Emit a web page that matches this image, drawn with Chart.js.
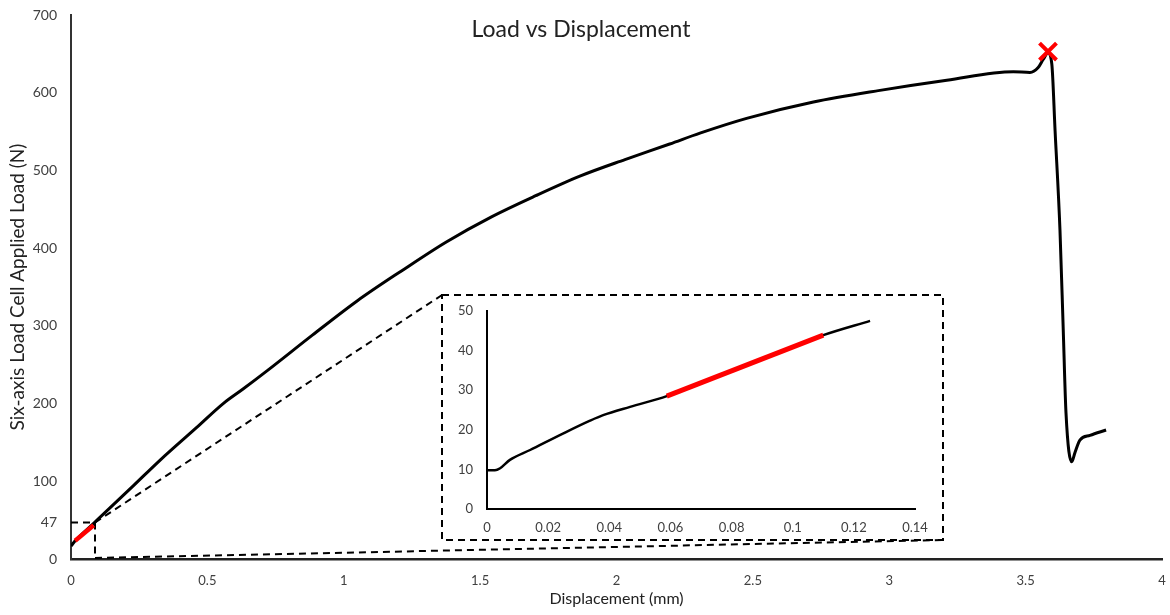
<!DOCTYPE html>
<html><head><meta charset="utf-8">
<script src="https://cdn.jsdelivr.net/npm/chart.js@4.4.1/dist/chart.umd.min.js"></script>
<style>
html,body{margin:0;padding:0;background:#fff;}
#wrap{position:relative;width:1170px;height:615px;overflow:hidden;}
#main{position:absolute;left:0;top:0;}
#inset{position:absolute;}
</style></head><body>
<div id="wrap">
<canvas id="main" width="1170" height="615"></canvas>
<canvas id="inset" width="498" height="241"></canvas>
</div>
<script>
// ---- Main curve data (Displacement mm, Load N) ----
const displacement = [0, 0.018, 0.088, 0.231, 0.326, 0.460, 0.558, 0.632, 0.722, 0.885, 1.049, 1.213, 1.376, 1.540, 1.704, 1.868, 2.031, 2.195, 2.306, 2.477, 2.722, 2.966, 3.211, 3.455, 3.516, 3.546, 3.565, 3.582, 3.596, 3.608, 3.626, 3.638, 3.648, 3.669, 3.681, 3.699, 3.736, 3.795];
const load = [16.7, 24.4, 47.5, 95.0, 127.0, 169.0, 200.0, 219.0, 243.0, 288.0, 332.0, 371.0, 408.0, 440.0, 467.5, 493.0, 514.0, 534.0, 548.0, 567.0, 588.0, 603.0, 616.0, 627.0, 626.0, 632.3, 643.1, 651, 637, 551, 422.6, 294, 188, 125, 137, 153, 159, 166];
const redDisp = [0.015, 0.083];
const redLoad = [23.5, 43.5];
const failureDisp = [3.582];
const failureLoad = [653];
const xTicksMain = [0, 0.5, 1, 1.5, 2, 2.5, 3, 3.5, 4];
const yTicksMain = [0, 47, 100, 200, 300, 400, 500, 600, 700];
const zoomDisp = 0.088;
const zoomLoad = 47;

// ---- Inset data ----
const insetDisp = [0, 0.0026, 0.0043, 0.0075, 0.0141, 0.025, 0.0337, 0.038, 0.0468, 0.0588, 0.085, 0.110, 0.1253];
const insetLoad = [9.8, 9.8, 10.3, 12.4, 14.9, 19.1, 22.3, 23.7, 25.8, 28.5, 36.4, 43.9, 47.5];
const insetRedDisp = [0.0588, 0.110];
const insetRedLoad = [28.5, 43.9];
const xTicksInset = [0, 0.02, 0.04, 0.06, 0.08, 0.1, 0.12, 0.14];
const yTicksInset = [0, 10, 20, 30, 40, 50];

const pts = (xs, ys) => xs.map((v, i) => ({x: v, y: ys[i]}));
const FONT = 'Lato, "Open Sans", sans-serif';
const TXT = '#404040';
const noPad = s => { s.paddingLeft = 0; s.paddingRight = 0; s.paddingTop = 0; s.paddingBottom = 0; };

// inset frame (page px)
const FRAME = {l: 442, t: 295, r: 943, b: 540};
const insetCanvas = document.getElementById('inset');
insetCanvas.style.left = (FRAME.l + 1) + 'px';
insetCanvas.style.top = (FRAME.t + 2) + 'px';

const guidePlugin = {
  id: 'zoomGuide',
  beforeDatasetsDraw(chart) {
    const {ctx, scales: {x, y}} = chart;
    const zx = x.getPixelForValue(zoomDisp), zy = y.getPixelForValue(zoomLoad);
    const x0 = x.getPixelForValue(0), y0 = y.getPixelForValue(0);
    ctx.save();
    ctx.setLineDash([7, 5]);
    ctx.lineWidth = 2;
    ctx.strokeStyle = '#000';
    ctx.beginPath();
    ctx.moveTo(x0, zy); ctx.lineTo(zx, zy); ctx.lineTo(zx, y0 - 1);
    ctx.moveTo(zx, zy); ctx.lineTo(FRAME.l, FRAME.t);
    ctx.moveTo(zx, y0 - 1); ctx.lineTo(FRAME.r, FRAME.b);
    ctx.stroke();
    ctx.strokeRect(FRAME.l, FRAME.t, FRAME.r - FRAME.l, FRAME.b - FRAME.t);
    ctx.restore();
  }
};

new Chart(document.getElementById('main'), {
  type: 'scatter',
  data: {
    datasets: [
      {data: pts(displacement, load), showLine: true, borderColor: '#000', borderWidth: 3, pointRadius: 0, cubicInterpolationMode: 'monotone', order: 3},
      {data: pts(redDisp, redLoad), showLine: true, borderColor: '#ff0000', borderWidth: 4.5, pointRadius: 0, order: 2},
      {data: pts(failureDisp, failureLoad), showLine: false, pointStyle: 'crossRot', pointRadius: 12, borderColor: '#ff0000', borderWidth: 4, order: 1}
    ]
  },
  options: {
    responsive: false, animation: false,
    layout: {autoPadding: false, padding: {top: 0, right: 8, bottom: 0, left: 0}},
    plugins: {
      legend: {display: false}, tooltip: {enabled: false},
      title: {display: true, text: 'Load vs Displacement', color: '#222', font: {family: FONT, size: 23, weight: 'normal', lineHeight: 1.2}, padding: {top: 16.2, bottom: -28.8}}
    },
    scales: {
      x: {
        type: 'linear', min: 0, max: 4,
        afterBuildTicks: s => { s.ticks = xTicksMain.map(v => ({value: v})); },
        afterFit: s => { s.height = 56; noPad(s); },
        grid: {display: false, drawTicks: false},
        border: {display: true, color: '#222', width: 2.5},
        ticks: {padding: 14, color: TXT, font: {family: FONT, size: 13}, callback: v => String(v), maxRotation: 0},
        title: {display: true, text: 'Displacement (mm)', color: '#222', font: {family: FONT, size: 16}, padding: {top: 0, bottom: 7}}
      },
      y: {
        type: 'linear', min: 0, max: 700,
        afterBuildTicks: s => { s.ticks = yTicksMain.map(v => ({value: v})); },
        afterFit: s => { s.width = 71; noPad(s); },
        grid: {display: false, drawTicks: false},
        border: {display: true, color: '#333', width: 2},
        ticks: {padding: 14, color: TXT, font: {family: FONT, size: 14}, callback: v => String(v)},
        title: {display: true, text: 'Six-axis Load Cell Applied Load (N)', color: '#222', font: {family: FONT, size: 19}, padding: {top: 6, bottom: 0}}
      }
    }
  },
  plugins: [guidePlugin]
});

new Chart(insetCanvas, {
  type: 'scatter',
  data: {
    datasets: [
      {data: pts(insetDisp, insetLoad), showLine: true, borderColor: '#000', borderWidth: 2.5, pointRadius: 0, cubicInterpolationMode: 'monotone', order: 2},
      {data: pts(insetRedDisp, insetRedLoad), showLine: true, borderColor: '#ff0000', borderWidth: 5, pointRadius: 0, order: 1}
    ]
  },
  options: {
    responsive: false, animation: false,
    layout: {autoPadding: false, padding: {top: 14, right: 26, bottom: 0, left: 0}},
    plugins: {legend: {display: false}, tooltip: {enabled: false}},
    scales: {
      x: {
        type: 'linear', min: 0, max: 0.14,
        afterBuildTicks: s => { s.ticks = xTicksInset.map(v => ({value: v})); },
        afterFit: s => { s.height = 29; noPad(s); },
        grid: {display: false, drawTicks: false},
        border: {display: true, color: '#000', width: 2},
        ticks: {padding: 11, color: TXT, font: {family: FONT, size: 13}, callback: v => String(v), maxRotation: 0, autoSkip: false}
      },
      y: {
        type: 'linear', min: 0, max: 50,
        afterBuildTicks: s => { s.ticks = yTicksInset.map(v => ({value: v})); },
        afterFit: s => { s.width = 44; noPad(s); },
        grid: {display: false, drawTicks: false},
        border: {display: true, color: '#000', width: 2},
        ticks: {padding: 14, color: TXT, font: {family: FONT, size: 13}, callback: v => String(v)}
      }
    }
  }
});
</script>
</body></html>
